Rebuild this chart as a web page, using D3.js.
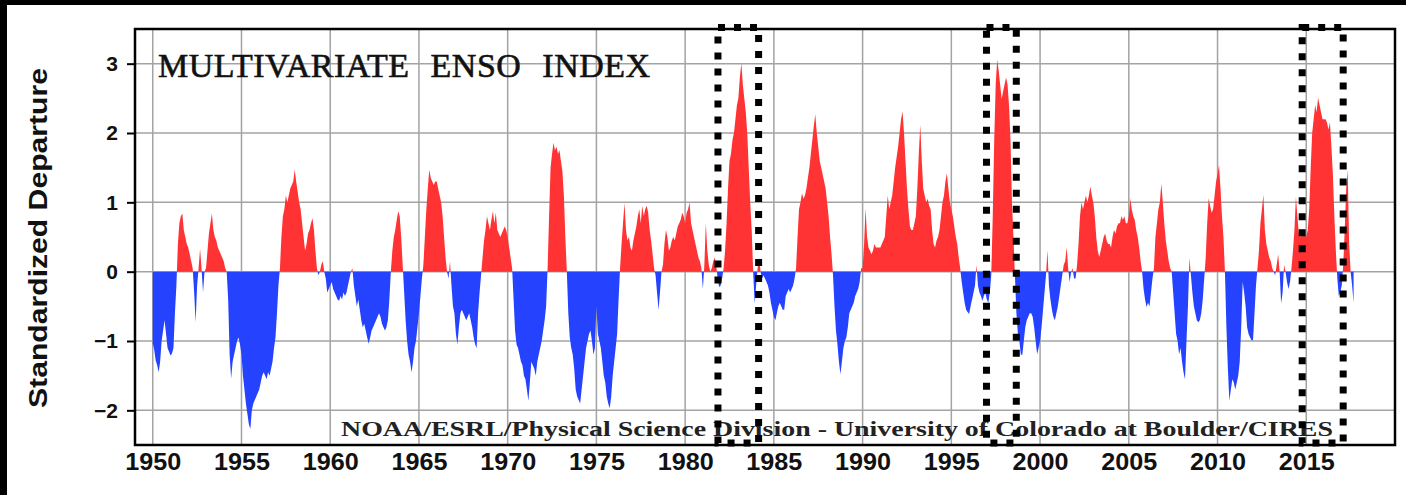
<!DOCTYPE html>
<meta charset="utf-8">
<style>
body { margin: 0; background: #000; }
.grid line { stroke: #a3a3a3; stroke-width: 1.5px; }
.axis text { font-family: "Liberation Sans", Arial, sans-serif; font-weight: bold; fill: #111; }
</style>
<svg class="chart" width="1406" height="495"></svg>
<script src="https://cdn.jsdelivr.net/npm/d3@7"></script>
<script>

// MEI, bimonthly values, one row per year (Dec/Jan ... Nov/Dec)
var mei1950s = [
  [-1.03, -1.13, -1.28, -1.35, -1.45, -1.3, -1.0, -0.85, -0.7, -0.9, -1.1, -1.15],
  [-1.21, -1.18, -1.1, -0.6, -0.2, 0.4, 0.7, 0.8, 0.84, 0.6, 0.5, 0.4],
  [0.35, 0.25, 0.15, 0.05, -0.3, -0.73, -0.2, 0.05, 0.33, 0.05, -0.3, 0.0],
  [0.05, 0.3, 0.55, 0.7, 0.84, 0.6, 0.5, 0.45, 0.35, 0.3, 0.25, 0.2],
  [0.15, 0.05, 0.0, -0.4, -1.2, -1.54, -1.3, -1.2, -1.1, -1.0, -0.95, -1.05],
  [-1.2, -1.5, -1.7, -1.9, -2.05, -2.2, -2.27, -2.0, -1.9, -1.85, -1.8, -1.75],
  [-1.7, -1.6, -1.5, -1.45, -1.5, -1.55, -1.45, -1.5, -1.4, -1.3, -1.1, -0.95],
  [-0.6, -0.2, 0.05, 0.5, 0.8, 0.9, 1.1, 1.0, 1.1, 1.2, 1.25, 1.3],
  [1.47, 1.3, 1.15, 1.0, 0.9, 0.7, 0.5, 0.3, 0.4, 0.55, 0.6, 0.7],
  [0.77, 0.6, 0.3, 0.05, -0.05, 0.0, 0.1, 0.15, 0.0, -0.1, -0.3, -0.25]
];
var mei1960s = [
  [-0.2, -0.15, -0.25, -0.3, -0.35, -0.4, -0.42, -0.35, -0.4, -0.3, -0.35, -0.3],
  [-0.2, -0.1, 0.0, 0.05, -0.2, -0.35, -0.5, -0.4, -0.55, -0.7, -0.8, -0.75],
  [-0.85, -0.95, -1.04, -0.95, -0.85, -0.8, -0.75, -0.7, -0.65, -0.6, -0.65, -0.75],
  [-0.8, -0.85, -0.8, -0.7, -0.4, 0.0, 0.3, 0.5, 0.6, 0.75, 0.87, 0.8],
  [0.5, 0.1, -0.3, -0.7, -1.0, -1.2, -1.3, -1.45, -1.3, -1.1, -1.0, -0.8],
  [-0.6, -0.35, -0.1, 0.1, 0.5, 0.9, 1.2, 1.47, 1.35, 1.3, 1.25, 1.3],
  [1.3, 1.2, 1.1, 1.0, 0.8, 0.5, 0.2, 0.0, -0.1, 0.15, -0.2, -0.5],
  [-0.6, -0.9, -1.05, -0.8, -0.6, -0.55, -0.6, -0.65, -0.7, -0.65, -0.6, -0.7],
  [-0.8, -0.95, -1.05, -1.1, -0.6, -0.3, -0.05, 0.2, 0.45, 0.6, 0.8, 0.7],
  [0.6, 0.75, 0.87, 0.7, 0.85, 0.6, 0.55, 0.5, 0.55, 0.6, 0.65, 0.6]
];
var mei1970s = [
  [0.5, 0.35, 0.2, 0.05, -0.4, -0.85, -1.05, -1.1, -1.2, -1.3, -1.35, -1.5],
  [-1.55, -1.7, -1.86, -1.6, -1.3, -1.35, -1.4, -1.5, -1.3, -1.2, -1.1, -1.0],
  [-0.85, -0.7, -0.5, 0.05, 0.8, 1.5, 1.7, 1.86, 1.75, 1.8, 1.7, 1.75],
  [1.6, 1.45, 1.1, 0.5, 0.0, -0.6, -0.95, -1.1, -1.2, -1.4, -1.7, -1.8],
  [-1.85, -1.9, -1.7, -1.5, -1.3, -1.1, -1.0, -0.9, -0.85, -1.0, -1.2, -1.1],
  [-0.5, -0.9, -1.0, -1.1, -1.3, -1.5, -1.6, -1.8, -1.9, -1.97, -1.8, -1.5],
  [-1.3, -1.1, -0.9, -0.4, 0.05, 0.4, 0.7, 0.99, 0.6, 0.45, 0.5, 0.35],
  [0.3, 0.45, 0.55, 0.65, 0.8, 0.9, 0.7, 0.95, 0.8, 0.9, 0.95, 0.85],
  [0.6, 0.45, 0.25, 0.05, -0.05, -0.3, -0.55, -0.3, 0.0, 0.1, 0.4, 0.6],
  [0.5, 0.3, 0.35, 0.45, 0.5, 0.45, 0.55, 0.65, 0.7, 0.75, 0.85, 0.8]
];
var mei1980s = [
  [0.7, 0.85, 0.9, 1.0, 0.7, 0.6, 0.5, 0.4, 0.3, 0.2, 0.15, 0.05],
  [-0.25, 0.1, 0.7, 0.3, 0.1, 0.0, 0.05, 0.15, 0.2, 0.1, -0.1, -0.22],
  [-0.2, -0.1, 0.05, 0.3, 0.7, 1.2, 1.6, 1.7, 1.9, 2.0, 2.2, 2.4],
  [2.5, 2.8, 3.01, 2.7, 2.5, 2.3, 2.0, 1.5, 1.0, 0.6, 0.0, -0.46],
  [-0.2, 0.05, 0.2, 0.0, -0.1, -0.05, -0.1, -0.15, -0.2, -0.3, -0.45, -0.55],
  [-0.65, -0.7, -0.6, -0.5, -0.45, -0.5, -0.55, -0.55, -0.35, -0.3, -0.25, -0.3],
  [-0.25, -0.2, -0.1, 0.05, 0.5, 0.9, 1.0, 1.13, 1.05, 1.1, 1.2, 1.35],
  [1.5, 1.7, 1.9, 2.1, 2.27, 2.0, 1.8, 1.6, 1.5, 1.4, 1.3, 1.2],
  [1.0, 0.8, 0.5, 0.25, -0.05, -0.5, -0.85, -1.05, -1.3, -1.48, -1.3, -1.1],
  [-1.0, -0.95, -0.8, -0.6, -0.55, -0.5, -0.45, -0.35, -0.3, -0.25, -0.15, 0.05]
];
var mei1990s = [
  [0.05, 0.4, 0.91, 0.5, 0.35, 0.3, 0.25, 0.3, 0.4, 0.35, 0.35, 0.35],
  [0.35, 0.4, 0.45, 0.5, 0.8, 1.1, 0.9, 1.0, 1.1, 1.3, 1.5, 1.65],
  [1.8, 2.0, 2.2, 2.31, 2.0, 1.6, 1.2, 0.9, 0.65, 0.6, 0.6, 0.7],
  [0.8, 1.2, 1.7, 2.12, 1.6, 1.2, 1.1, 1.0, 1.05, 0.95, 0.9, 0.6],
  [0.4, 0.35, 0.45, 0.5, 0.6, 0.8, 1.0, 1.1, 1.3, 1.42, 1.2, 1.0],
  [0.9, 0.8, 0.65, 0.5, 0.4, 0.2, 0.05, -0.15, -0.3, -0.45, -0.55, -0.58],
  [-0.61, -0.5, -0.4, -0.3, -0.2, 0.1, -0.2, -0.3, -0.35, -0.42, -0.35, -0.3],
  [-0.4, -0.45, -0.3, -0.05, 0.8, 1.9, 2.7, 3.06, 2.9, 2.7, 2.49, 2.6],
  [2.7, 2.8, 2.7, 2.4, 1.9, 1.0, 0.5, -0.05, -0.6, -0.9, -1.0, -1.2],
  [-1.2, -1.0, -0.8, -0.7, -0.65, -0.6, -0.6, -0.65, -0.8, -1.0, -1.19, -1.1]
];
var mei2000s = [
  [-1.0, -0.8, -0.55, -0.3, -0.05, 0.31, -0.2, -0.4, -0.55, -0.65, -0.7, -0.6],
  [-0.5, -0.35, -0.2, -0.05, 0.1, 0.15, 0.35, 0.05, -0.15, 0.0, 0.05, -0.1],
  [-0.1, 0.1, 0.4, 0.8, 1.0, 0.9, 1.0, 1.1, 1.0, 1.1, 1.23, 1.1],
  [1.0, 0.8, 0.5, 0.3, 0.21, 0.3, 0.4, 0.5, 0.55, 0.45, 0.4, 0.4],
  [0.35, 0.5, 0.6, 0.55, 0.65, 0.7, 0.7, 0.8, 0.75, 0.8, 0.7, 0.7],
  [0.8, 1.05, 0.9, 0.8, 0.75, 0.6, 0.5, 0.35, 0.15, 0.0, -0.25, -0.4],
  [-0.51, -0.45, -0.5, -0.3, -0.1, 0.05, 0.5, 0.7, 0.9, 1.0, 1.27, 1.0],
  [0.7, 0.45, 0.3, 0.15, 0.05, 0.0, -0.3, -0.6, -0.9, -1.0, -1.19, -1.1],
  [-1.3, -1.45, -1.55, -1.0, -0.5, 0.2, -0.05, -0.3, -0.5, -0.6, -0.7, -0.73],
  [-0.7, -0.6, -0.4, -0.1, 0.2, 0.7, 1.06, 0.95, 0.85, 0.9, 1.1, 1.3]
];
var mei2010s = [
  [1.4, 1.54, 1.2, 0.8, 0.5, 0.0, -0.8, -1.4, -1.86, -1.7, -1.55, -1.6],
  [-1.7, -1.6, -1.5, -1.3, -0.8, -0.15, -0.3, -0.5, -0.8, -0.9, -0.95, -0.99],
  [-0.99, -0.6, -0.2, 0.05, 0.3, 0.7, 0.9, 1.11, 0.6, 0.4, 0.3, 0.2],
  [0.15, 0.05, 0.0, -0.05, 0.1, 0.25, 0.0, -0.46, -0.3, 0.1, 0.0, -0.15],
  [-0.25, -0.15, 0.05, 0.3, 0.6, 1.08, 0.8, 0.55, 0.5, 0.55, 0.6, 0.55],
  [0.5, 0.6, 0.9, 1.5, 2.0, 2.2, 2.4, 2.3, 2.51, 2.4, 2.3, 2.2],
  [2.2, 2.2, 2.15, 2.05, 2.15, 1.8, 1.4, 0.8, 0.3, -0.1, -0.35, -0.3],
  [-0.2, 0.1, 0.6, 1.2, 1.47, 0.4, 0.0, -0.2, -0.45]
];

var startYear = 1950;
var yearTicks = d3.range(1950, 2016, 5);
var valueTicks = [-2, -1, 0, 1, 2, 3];
// highlighted periods (dotted boxes), in years
var boxes = [[1981.85, 1984.14], [1996.98, 1998.66], [2014.77, 2017.08]];

var title = "MULTIVARIATE ENSO INDEX";
var credit = "NOAA/ESRL/Physical Science Division - University of Colorado at Boulder/CIRES";

var svg = d3.select(".chart");

svg.append("rect")
    .attr("x", 7).attr("y", 5)
    .attr("width", 1406 - 7).attr("height", 495 - 5)
    .attr("fill", "#fff");

var x = d3.scaleLinear().domain([1949, 2020]).range([135, 1395]),
    y = d3.scaleLinear().domain([-2.5, 3.5]).range([445, 29]);

var values = [].concat(mei1950s, mei1960s, mei1970s, mei1980s, mei1990s, mei2000s, mei2010s)
    .reduce(function(a, row) { return a.concat(row); }, []);

var pts = values.map(function(v, i) { return {t: startYear + i / 12, v: v}; });

// add the zero crossings so the two colours meet on the axis
var series = [];
pts.forEach(function(p, i) {
  if (i > 0) {
    var q = pts[i - 1];
    if ((q.v > 0 && p.v < 0) || (q.v < 0 && p.v > 0)) {
      var f = q.v / (q.v - p.v);
      series.push({t: q.t + f * (p.t - q.t), v: 0});
    }
  }
  series.push(p);
});

// grid
var grid = svg.append("g").attr("class", "grid");
grid.selectAll(".v").data(yearTicks).enter().append("line")
    .attr("x1", function(d) { return x(d); }).attr("x2", function(d) { return x(d); })
    .attr("y1", y(3.5)).attr("y2", y(-2.5));
grid.selectAll(".h").data(valueTicks).enter().append("line")
    .attr("x1", x(1949)).attr("x2", x(2020))
    .attr("y1", function(d) { return y(d); }).attr("y2", function(d) { return y(d); });

var posArea = d3.area()
    .x(function(d) { return x(d.t); })
    .y0(y(0))
    .y1(function(d) { return y(Math.max(d.v, 0)); });
var negArea = d3.area()
    .x(function(d) { return x(d.t); })
    .y0(y(0))
    .y1(function(d) { return y(Math.min(d.v, 0)); });

svg.append("path").datum(series).attr("d", posArea).attr("fill", "#ff3333");
svg.append("path").datum(series).attr("d", negArea).attr("fill", "#2542ff");

// frame
svg.append("rect")
    .attr("x", x(1949)).attr("y", y(3.5))
    .attr("width", x(2020) - x(1949)).attr("height", y(-2.5) - y(3.5))
    .attr("fill", "none").attr("stroke", "#000").attr("stroke-width", 2.5);

// axes
var yAxis = svg.append("g").attr("class", "axis")
    .attr("transform", "translate(" + x(1949) + ",0)")
    .call(d3.axisLeft(y).tickValues(valueTicks).tickSize(8).tickPadding(9).tickFormat(d3.format("d")));
yAxis.select(".domain").remove();
yAxis.selectAll("line").attr("stroke", "#000").attr("stroke-width", 2);
yAxis.selectAll("text").attr("font-size", 21);

var xAxis = svg.append("g").attr("class", "axis")
    .attr("transform", "translate(0," + y(-2.5) + ")")
    .call(d3.axisBottom(x).tickValues(yearTicks).tickSize(0).tickPadding(8).tickFormat(d3.format("d")));
xAxis.select(".domain").remove();
xAxis.selectAll("text").attr("font-size", 24).attr("textLength", 56).attr("lengthAdjust", "spacingAndGlyphs");

svg.append("text")
    .attr("transform", "translate(47," + ((y(3.5) + y(-2.5)) / 2 + 1) + ") rotate(-90)")
    .attr("text-anchor", "middle")
    .attr("font-family", "Liberation Sans, Arial, sans-serif")
    .attr("font-weight", "bold")
    .attr("font-size", 25)
    .attr("textLength", 340)
    .attr("lengthAdjust", "spacingAndGlyphs")
    .attr("fill", "#111")
    .text("Standardized Departure");

svg.append("text")
    .attr("x", 158).attr("y", 77)
    .attr("font-family", "Liberation Serif, Times New Roman, serif")
    .attr("font-size", 34)
    .attr("letter-spacing", 0.5)
    .attr("word-spacing", 12)
    .attr("fill", "#111")
    .attr("stroke", "#111")
    .attr("stroke-width", 0.6)
    .text(title);

svg.append("text")
    .attr("x", 341).attr("y", 436)
    .attr("font-family", "Liberation Serif, Times New Roman, serif")
    .attr("font-weight", "bold")
    .attr("font-size", 22)
    .attr("textLength", 992)
    .attr("lengthAdjust", "spacingAndGlyphs")
    .attr("fill", "#222")
    .text(credit);

// dotted boxes
svg.append("g").selectAll("rect").data(boxes).enter().append("rect")
    .attr("x", function(d) { return x(d[0]); })
    .attr("y", y(3.52))
    .attr("width", function(d) { return x(d[1]) - x(d[0]); })
    .attr("height", y(-2.47) - y(3.52))
    .attr("fill", "none")
    .attr("stroke", "#000")
    .attr("stroke-width", 7)
    .attr("stroke-dasharray", "7 9");

</script>
